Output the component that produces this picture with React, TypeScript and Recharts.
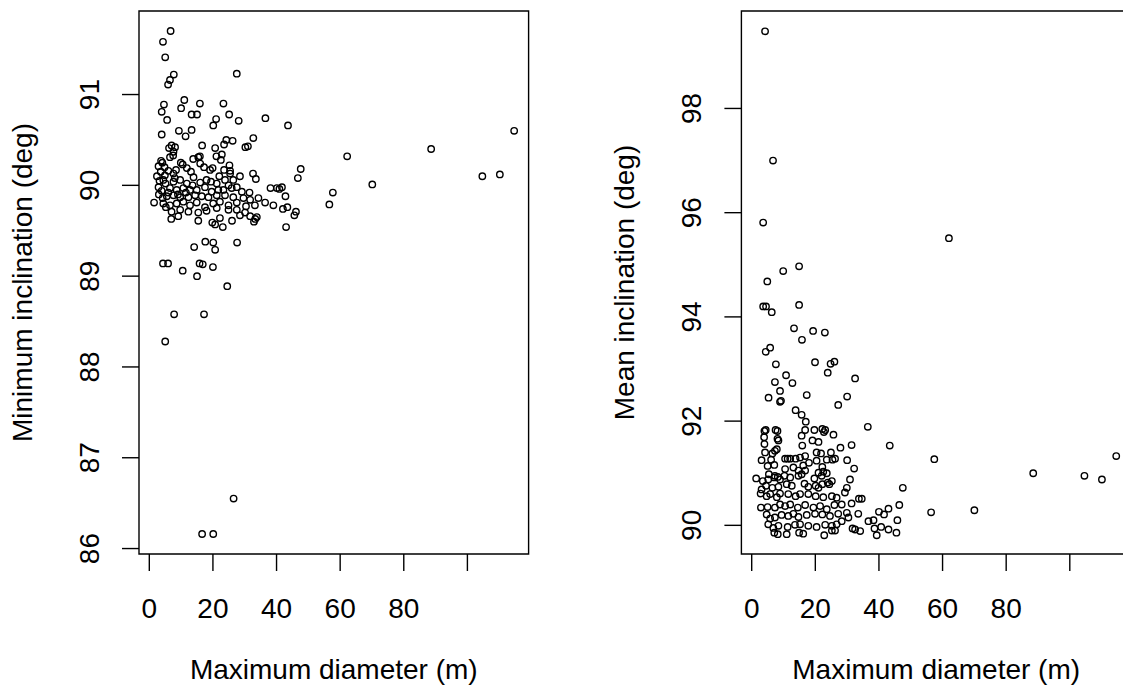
import React from 'react';
import { ScatterChart, Scatter, XAxis, YAxis, ReferenceArea } from 'recharts';

// ---------- data ----------
const diameterLeft = [
  6.7, 4.3, 5.0, 7.7, 6.5, 5.9, 27.5, 11.0, 4.6, 3.9, 10.0, 15.9, 13.3, 15.0, 5.6, 23.3, 25.1, 21.0, 20.1, 28.1,
  36.5, 43.6, 3.9, 9.3, 11.4, 13.3, 16.6, 6.2, 7.0, 8.1, 20.7, 23.5, 24.2, 26.2, 30.2, 31.0, 32.7, 6.5, 7.5, 3.7,
  2.9, 4.1, 13.8, 15.4, 15.9, 21.1, 22.8, 22.5, 25.2, 25.4, 47.6, 46.7, 38.1, 40.1, 40.9, 41.7, 42.8, 32.6, 33.5, 28.5,
  1.5, 6.9, 9.1, 15.4, 19.8, 20.7, 22.2, 23.1, 26.0, 30.1, 31.7, 32.9, 33.3, 33.8, 36.4, 39.0, 42.0, 43.4, 45.6, 46.1,
  43.0, 57.7, 56.6, 14.1, 17.6, 20.1, 20.7, 27.6, 4.3, 5.9, 15.8, 16.8, 10.5, 20.0, 15.0, 24.5, 7.8, 17.2, 5.0, 26.5,
  16.6, 20.1, 62.2, 70.1, 88.6, 104.7, 110.2, 114.7,
  7.6, 9.9, 10.5, 16.0, 23.5, 3.6, 4.9, 6.0, 7.6, 8.4, 11.8, 13.1, 13.9, 17.2, 19.1, 19.9, 22.0, 25.4,
  4.4, 7.6, 9.7, 11.8, 13.6, 16.0, 18.0, 19.4, 21.2, 23.8, 26.4, 24.9,
  2.9, 3.9, 6.5, 8.6, 10.7, 12.8, 14.9, 17.5, 19.6, 21.7, 23.3, 25.9, 27.5, 29.1, 31.5,
  4.2, 5.5, 7.6, 9.7, 12.3, 14.4, 16.5, 18.6, 21.2, 23.8, 26.4, 29.6, 31.7, 34.3,
  4.4, 6.5, 8.6, 10.7, 12.8, 14.9, 17.5, 20.1, 22.2, 24.9, 27.5, 30.4, 33.2,
  7.0, 9.7, 12.3, 15.4, 18.0, 21.2, 24.9, 27.5, 28.5,
  3.2, 5.1, 6.0, 8.0, 3.0, 5.2, 9.0, 11.5, 2.4, 4.8,
];
const minInclination = [
  91.70, 91.58, 91.41, 91.22, 91.16, 91.11, 91.23, 90.94, 90.89, 90.81, 90.85, 90.90, 90.78, 90.78, 90.72, 90.90, 90.78, 90.73, 90.66, 90.71,
  90.74, 90.66, 90.56, 90.60, 90.54, 90.61, 90.44, 90.41, 90.44, 90.42, 90.41, 90.45, 90.50, 90.49, 90.42, 90.43, 90.52, 90.31, 90.33, 90.27,
  90.21, 90.25, 90.29, 90.31, 90.32, 90.32, 90.34, 90.28, 90.22, 90.16, 90.18, 90.08, 89.97, 89.97, 89.96, 89.98, 89.88, 90.13, 90.07, 90.10,
  89.81, 89.63, 89.66, 89.61, 89.59, 89.57, 89.64, 89.54, 89.61, 89.70, 89.66, 89.60, 89.63, 89.65, 89.81, 89.78, 89.74, 89.76, 89.67, 89.71,
  89.54, 89.92, 89.79, 89.32, 89.38, 89.37, 89.29, 89.37, 89.14, 89.14, 89.14, 89.13, 89.06, 89.10, 89.00, 88.89, 88.58, 88.58, 88.28, 86.55,
  86.16, 86.16, 90.32, 90.01, 90.40, 90.10, 90.12, 90.60,
  90.37, 90.25, 90.23, 90.24, 90.17, 90.15, 90.11, 90.16, 90.13, 90.17, 90.19, 90.15, 90.09, 90.20, 90.17, 90.19, 90.10, 90.13,
  90.06, 90.04, 90.06, 90.02, 90.00, 90.03, 90.06, 90.04, 90.02, 90.06, 90.06, 90.00,
  89.98, 89.94, 89.97, 89.95, 89.97, 89.95, 89.95, 89.98, 89.93, 89.95, 89.95, 89.97, 89.98, 89.93, 89.92,
  89.86, 89.88, 89.89, 89.87, 89.87, 89.89, 89.88, 89.87, 89.89, 89.89, 89.87, 89.86, 89.84, 89.86,
  89.80, 89.78, 89.80, 89.82, 89.78, 89.81, 89.76, 89.80, 89.82, 89.78, 89.81, 89.77, 89.78,
  89.71, 89.73, 89.71, 89.70, 89.72, 89.75, 89.73, 89.73, 89.67,
  90.05, 90.02, 89.92, 90.08, 89.90, 89.76, 89.90, 89.92, 90.10, 90.20,
];

const diameterRight = [
  4.2, 6.7, 3.6, 62.0, 14.9, 9.9, 4.9, 3.6, 4.5, 6.3, 14.9, 13.3, 19.3, 23.0, 15.8, 5.8, 4.4, 7.6, 19.9, 24.8,
  26.0, 23.9, 10.8, 32.5, 57.4, 56.4, 70.0, 88.5, 104.6, 110.1, 114.6,
  7.3, 12.8, 8.9, 5.3, 17.3, 8.9, 9.2, 30.0, 27.2, 13.8, 15.7, 17.0, 36.5,
  4.0, 4.4, 7.5, 8.1, 16.8, 19.7, 22.2, 23.1, 22.7, 25.7, 3.9, 8.1, 8.4, 15.7, 19.1, 21.0,
  4.0, 15.9, 31.4, 27.9, 43.4, 7.9, 7.3, 4.2, 6.5, 20.4, 21.8, 24.9,
  10.5, 11.3, 12.1, 13.8, 15.2, 16.8, 3.1, 6.1, 20.4, 23.6, 25.4, 26.2, 30.0,
  5.0, 7.1, 16.2, 18.0, 22.2, 32.2, 10.5, 13.1, 14.7, 5.4, 7.3, 16.8, 15.7, 21.0, 22.5, 23.6,
  1.4, 3.5, 5.2, 7.1, 8.2, 8.9, 10.3, 12.1, 14.7, 19.7, 22.0, 30.9,
  4.5, 3.1, 6.5, 8.4, 11.0, 12.6, 16.6, 17.8, 20.1, 21.0, 22.2, 23.9, 25.2, 24.4, 29.9, 47.5,
  2.8, 4.7, 5.8, 7.9, 8.9, 11.5, 13.8, 15.2, 17.8, 20.1, 22.5, 25.2, 26.7, 29.3, 33.7, 34.6,
  2.9, 5.0, 7.3, 8.9, 10.5, 12.1, 14.5, 16.8, 19.4, 21.5, 23.6, 26.0, 28.3, 31.4, 33.5, 46.4, 43.0, 41.6, 40.0, 38.3, 36.7, 45.8,
  4.7, 5.8, 7.3, 9.4, 11.5, 13.1, 14.7, 17.3, 19.9, 22.2, 24.6, 27.2, 29.9, 30.4,
  5.2, 6.8, 8.4, 11.3, 13.6, 15.2, 17.8, 20.4, 23.1, 25.2, 26.7, 28.3, 31.7, 32.5, 34.1, 38.6, 40.7, 43.0, 45.5, 39.3,
  7.1, 8.2, 11.0, 14.9, 16.2, 22.8, 25.2, 26.2,
];
const meanInclination = [
  99.48, 97.00, 95.81, 95.51, 94.97, 94.88, 94.68, 94.20, 94.20, 94.09, 94.23, 93.78, 93.73, 93.70, 93.56, 93.41, 93.33, 93.09, 93.13, 93.10,
  93.14, 92.93, 92.88, 92.82, 91.27, 90.25, 90.29, 91.00, 90.95, 90.88, 91.33,
  92.75, 92.73, 92.58, 92.45, 92.50, 92.37, 92.39, 92.47, 92.31, 92.21, 92.12, 91.99, 91.89,
  91.81, 91.83, 91.83, 91.81, 91.83, 91.83, 91.85, 91.83, 91.79, 91.74, 91.69, 91.66, 91.63, 91.72, 91.63, 91.60,
  91.56, 91.53, 91.54, 91.49, 91.53, 91.46, 91.43, 91.40, 91.38, 91.40, 91.38, 91.40,
  91.28, 91.28, 91.28, 91.28, 91.30, 91.33, 91.25, 91.26, 91.24, 91.26, 91.26, 91.28, 91.25,
  91.14, 91.16, 91.15, 91.20, 91.12, 91.09, 91.08, 91.11, 91.05, 90.98, 90.95, 91.05, 90.98, 91.01, 91.03, 91.00,
  90.90, 90.85, 90.88, 90.92, 90.93, 90.88, 90.95, 90.92, 90.95, 90.90, 90.95, 90.88,
  90.76, 90.69, 90.72, 90.74, 90.79, 90.76, 90.80, 90.74, 90.76, 90.72, 90.79, 90.82, 90.85, 90.79, 90.72, 90.72,
  90.61, 90.56, 90.60, 90.54, 90.61, 90.60, 90.56, 90.60, 90.60, 90.56, 90.54, 90.56, 90.53, 90.63, 90.51, 90.51,
  90.34, 90.35, 90.34, 90.40, 90.37, 90.40, 90.34, 90.39, 90.34, 90.37, 90.31, 90.39, 90.40, 90.42, 90.22, 90.39, 90.32, 90.21, 90.26, 90.10, 90.08, 90.10,
  90.21, 90.13, 90.15, 90.20, 90.18, 90.22, 90.16, 90.20, 90.22, 90.21, 90.18, 90.22, 90.24, 90.15,
  90.02, 89.95, 89.99, 89.97, 90.01, 90.02, 89.99, 89.97, 90.01, 89.99, 90.02, 90.08, 89.94, 89.92, 89.89, 89.94, 89.97, 89.92, 89.86, 89.81,
  89.86, 89.83, 89.83, 89.86, 89.84, 89.81, 89.90, 89.90,
];

const xTicks = [0, 20, 40, 60, 80, 100];
const xTickLabels = ['0', '20', '40', '60', '80', ''];
const minTicks = [86, 87, 88, 89, 90, 91];
const meanTicks = [90, 92, 94, 96, 98];
const xTitle = 'Maximum diameter (m)';
const leftTitle = 'Minimum inclination (deg)';
const rightTitle = 'Mean inclination (deg)';

const xDomain = [-3.24, 119.24];
const minDomain = [85.94, 91.92];
const meanDomain = [89.45, 99.87];

// ---------- styling ----------
const FONT = "'Liberation Sans', Arial, Helvetica, sans-serif";
const FS = 28;
const STROKE = 1.4;
const TICK_LEN = 17;

const zip = (xs: number[], ys: number[]) => xs.map((x, i) => ({ x, y: ys[i] }));

const Ring = (p: any) => (
  <circle cx={p.cx} cy={p.cy} r={3.2} fill="none" stroke="#000" strokeWidth={1.4} />
);

type PanelProps = {
  left: number;
  width: number;
  plotLeft: number;
  plotRight: number;
  xs: number[];
  ys: number[];
  yDomain: number[];
  yTicks: number[];
  yTitle: string;
};

const PLOT_TOP = 11;
const PLOT_BOTTOM = 554;
const HEIGHT = 696;

function Panel({ left, width, plotLeft, plotRight, xs, ys, yDomain, yTicks, yTitle }: PanelProps) {
  const data = zip(xs, ys);
  const tickBase = plotLeft - 40.3;
  const titleBase = plotLeft - 107.5;
  const midY = (PLOT_TOP + PLOT_BOTTOM) / 2;
  const midX = (plotLeft + plotRight) / 2;

  const xTick = (p: any) => {
    const idx = xTicks.indexOf(p.payload.value);
    const label = idx >= 0 ? xTickLabels[idx] : String(p.payload.value);
    return (
      <g>
        <line x1={p.x} x2={p.x} y1={PLOT_BOTTOM} y2={PLOT_BOTTOM + TICK_LEN} stroke="#000" strokeWidth={STROKE} />
        <text x={p.x} y={618} textAnchor="middle" fontSize={FS} fontFamily={FONT} fill="#000">
          {label}
        </text>
      </g>
    );
  };
  const yTick = (p: any) => (
    <g>
      <line x1={plotLeft - TICK_LEN} x2={plotLeft} y1={p.y} y2={p.y} stroke="#000" strokeWidth={STROKE} />
      <text
        x={tickBase}
        y={p.y}
        transform={`rotate(-90 ${tickBase} ${p.y})`}
        textAnchor="middle"
        fontSize={FS}
        fontFamily={FONT}
        fill="#000"
      >
        {String(p.payload.value)}
      </text>
    </g>
  );
  const xLabel = () => (
    <text x={midX} y={679} textAnchor="middle" fontSize={FS} fontFamily={FONT} fill="#000">
      {xTitle}
    </text>
  );
  const yLabel = () => (
    <text
      x={titleBase}
      y={midY}
      transform={`rotate(-90 ${titleBase} ${midY})`}
      textAnchor="middle"
      fontSize={FS}
      fontFamily={FONT}
      fill="#000"
    >
      {yTitle}
    </text>
  );

  return (
    <div style={{ position: 'absolute', left, top: 0, width, height: HEIGHT }}>
      <ScatterChart
        width={width}
        height={HEIGHT}
        margin={{ top: PLOT_TOP, right: width - plotRight, bottom: 0, left: 0 }}
      >
        <XAxis
          dataKey="x"
          type="number"
          domain={xDomain}
          allowDataOverflow
          ticks={xTicks}
          interval={0}
          height={HEIGHT - PLOT_BOTTOM}
          tickLine={false}
          axisLine={false}
          tick={xTick}
          label={xLabel}
        />
        <YAxis
          dataKey="y"
          type="number"
          domain={yDomain}
          allowDataOverflow
          ticks={yTicks}
          interval={0}
          width={plotLeft}
          tickLine={false}
          axisLine={false}
          tick={yTick}
          label={yLabel}
        />
        <ReferenceArea
          x1={xDomain[0]}
          x2={xDomain[1]}
          y1={yDomain[0]}
          y2={yDomain[1]}
          fill="none"
          fillOpacity={0}
          stroke="#000"
          strokeWidth={STROKE}
          ifOverflow="visible"
        />
        <Scatter data={data} dataKey="y" shape={Ring} isAnimationActive={false} />
      </ScatterChart>
    </div>
  );
}

export default function App() {
  return (
    <div
      style={{
        position: 'absolute',
        left: 0,
        top: 0,
        width: 1123,
        height: 696,
        overflow: 'hidden',
        background: '#fff',
      }}
    >
      <Panel
        left={0}
        width={560}
        plotLeft={139}
        plotRight={528.6}
        xs={diameterLeft}
        ys={minInclination}
        yDomain={minDomain}
        yTicks={minTicks}
        yTitle={leftTitle}
      />
      <Panel
        left={600}
        width={540}
        plotLeft={141.4}
        plotRight={531}
        xs={diameterRight}
        ys={meanInclination}
        yDomain={meanDomain}
        yTicks={meanTicks}
        yTitle={rightTitle}
      />
    </div>
  );
}
